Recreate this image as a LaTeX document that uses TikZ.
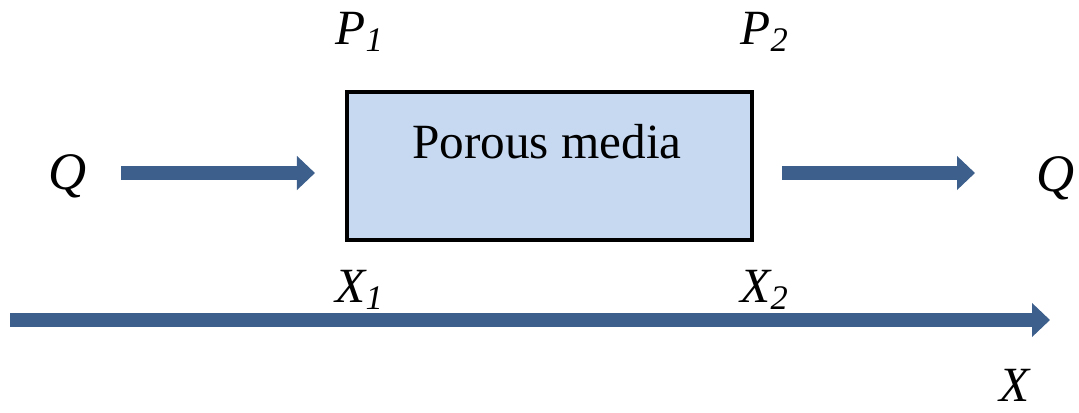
\documentclass[tikz,border=0pt]{standalone}
\usepackage{fontspec}
\setmainfont{Liberation Serif}
\usepackage{xcolor}
\usetikzlibrary{arrows.meta,positioning}
\definecolor{flowblue}{RGB}{60,95,140}
\definecolor{mediafill}{RGB}{198,217,241}

\begin{document}
\begin{tikzpicture}[x=0.01cm, y=-0.01cm,
    flow/.style={draw=flowblue, line width=0.14cm, -{Triangle[length=1.8mm, width=3.3mm]}},
    lbl/.style={font=\fontsize{14}{16}\selectfont\itshape, inner sep=1pt}]
    \useasboundingbox (0,0) rectangle (1079,412);

    % porous medium
    \node[draw=black, line width=1pt, fill=mediafill, minimum width=4.05cm, minimum height=1.48cm,
          anchor=north west, inner sep=0pt] (media) at (345,90) {};
    \node[font=\fontsize{14}{16}\selectfont] (mtext) at (547,142) {Porous media};

    % flow in and out
    \node[lbl, font=\fontsize{15}{17}\selectfont\itshape] (qin) at (68,176) {Q};
    \node[lbl, font=\fontsize{15}{17}\selectfont\itshape] (qout) at (1056,178) {Q};
    \draw[flow, shorten <=0.3cm, shorten >=0.3cm]
        (qin.east |- 0,173) -- (media.west |- 0,173);
    \coordinate (outstart) at (782,173);
    \coordinate (outend) at (975,173);
    \draw[flow] (outstart) -- (outend);

    % pressures and positions
    \node[lbl] (p1) at (360,32) {P\textsubscript{1}};
    \node[lbl] (p2) at (765,32) {P\textsubscript{2}};
    \node[lbl] (x1) at (360,290) {X\textsubscript{1}};
    \node[lbl] (x2) at (765,290) {X\textsubscript{2}};

    % axis
    \coordinate (axstart) at (10,320);
    \coordinate (axend) at (1050,320);
    \draw[flow] (axstart) -- (axend);
    \node[lbl] (xaxis) at (1015,385) {X};
\end{tikzpicture}
\end{document}
